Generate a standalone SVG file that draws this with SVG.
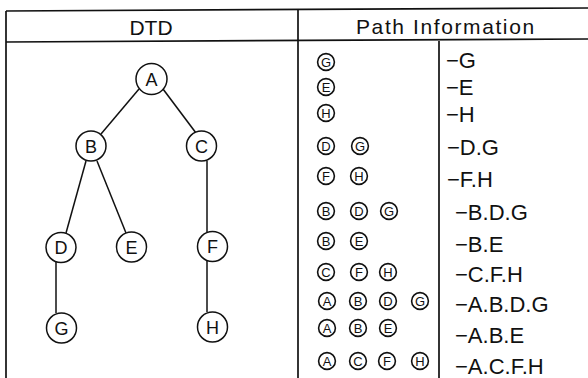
<svg xmlns="http://www.w3.org/2000/svg" width="588" height="378" viewBox="0 0 588 378">
  <style>
    .rule { stroke: #111; stroke-width: 1.7; fill: none; }
    .edge { stroke: #111; stroke-width: 1.5; fill: none; }
    .node circle { fill: #fff; stroke: #111; stroke-width: 1.5; }
    .node text { font-family: "Liberation Sans", Arial, sans-serif; font-size: 18px; fill: #111; text-anchor: middle; }
    .head { font-family: "Liberation Sans", Arial, sans-serif; font-size: 21px; fill: #111; }
    .lab { font-family: "Liberation Sans", Arial, sans-serif; font-size: 13px; fill: #111; text-anchor: middle; }
    .path { font-family: "Liberation Sans", Arial, sans-serif; font-size: 22px; fill: #111; }
  </style>
  <defs>
    <circle id="ring" r="8.4" fill="#fff" stroke="#111" stroke-width="1.6"/>
  </defs>
  <rect width="588" height="378" fill="#fff"/>

  <!-- table frame -->
  <g id="frame">
    <line class="rule" x1="6" y1="11" x2="588" y2="8"/>
    <line class="rule" x1="6" y1="42" x2="588" y2="39"/>
    <line class="rule" x1="6" y1="11" x2="6" y2="378"/>
    <line class="rule" x1="298" y1="10" x2="298" y2="378"/>
    <line class="rule" x1="439" y1="41" x2="439" y2="378"/>
    <text class="head" x="151" y="35" text-anchor="middle">DTD</text>
    <text class="head" x="356" y="34" letter-spacing="1.6">Path Information</text>
  </g>

  <!-- tree edges -->
  <g id="connectors">
    <line class="edge" x1="139" y1="89" x2="101" y2="134"/>
    <line class="edge" x1="163" y1="89" x2="196" y2="133"/>
    <line class="edge" x1="86" y1="161" x2="66" y2="233"/>
    <line class="edge" x1="97" y1="161" x2="126" y2="233"/>
    <line class="edge" x1="207" y1="161" x2="207" y2="232"/>
    <line class="edge" x1="56" y1="262" x2="56" y2="313"/>
    <line class="edge" x1="207" y1="261" x2="207" y2="312"/>
  </g>

  <!-- tree nodes -->
  <g id="node-A" class="node"><circle cx="151.5" cy="79" r="15.5"/><text x="151.5" y="85.5">A</text></g>
  <g id="node-B" class="node"><circle cx="91" cy="146" r="15"/><text x="91" y="152.5">B</text></g>
  <g id="node-C" class="node"><circle cx="201.5" cy="146" r="15"/><text x="201.5" y="152.5">C</text></g>
  <g id="node-D" class="node"><circle cx="61" cy="247.5" r="15"/><text x="61" y="254">D</text></g>
  <g id="node-E" class="node"><circle cx="131.5" cy="247" r="15"/><text x="131.5" y="253.5">E</text></g>
  <g id="node-F" class="node"><circle cx="212.5" cy="246.5" r="15"/><text x="212.5" y="253">F</text></g>
  <g id="node-G" class="node"><circle cx="61.5" cy="328" r="15"/><text x="61.5" y="334.5">G</text></g>
  <g id="node-H" class="node"><circle cx="212.5" cy="327" r="15"/><text x="212.5" y="333.5">H</text></g>

  <!-- path information rows: circled steps, then the dotted path -->
  <g id="row-1">
    <use href="#ring" x="326" y="62"/><text class="lab" x="326" y="66.6">G</text>
    <text class="path" x="446" y="68">−G</text>
  </g>
  <g id="row-2">
    <use href="#ring" x="326" y="87"/><text class="lab" x="326" y="91.6">E</text>
    <text class="path" x="446" y="95">−E</text>
  </g>
  <g id="row-3">
    <use href="#ring" x="326" y="113"/><text class="lab" x="326" y="117.6">H</text>
    <text class="path" x="446" y="122">−H</text>
  </g>
  <g id="row-4">
    <use href="#ring" x="326" y="146"/><text class="lab" x="326" y="150.6">D</text>
    <use href="#ring" x="360" y="146"/><text class="lab" x="360" y="150.6">G</text>
    <text class="path" x="447" y="155">−D.G</text>
  </g>
  <g id="row-5">
    <use href="#ring" x="326" y="176"/><text class="lab" x="326" y="180.6">F</text>
    <use href="#ring" x="359" y="176"/><text class="lab" x="359" y="180.6">H</text>
    <text class="path" x="447" y="187">−F.H</text>
  </g>
  <g id="row-6">
    <use href="#ring" x="326" y="211"/><text class="lab" x="326" y="215.6">B</text>
    <use href="#ring" x="359" y="211"/><text class="lab" x="359" y="215.6">D</text>
    <use href="#ring" x="389" y="211"/><text class="lab" x="389" y="215.6">G</text>
    <text class="path" x="455" y="220">−B.D.G</text>
  </g>
  <g id="row-7">
    <use href="#ring" x="326" y="241"/><text class="lab" x="326" y="245.6">B</text>
    <use href="#ring" x="359" y="241"/><text class="lab" x="359" y="245.6">E</text>
    <text class="path" x="455" y="252">−B.E</text>
  </g>
  <g id="row-8">
    <use href="#ring" x="326" y="272"/><text class="lab" x="326" y="276.6">C</text>
    <use href="#ring" x="359" y="272"/><text class="lab" x="359" y="276.6">F</text>
    <use href="#ring" x="388" y="272"/><text class="lab" x="388" y="276.6">H</text>
    <text class="path" x="455" y="282">−C.F.H</text>
  </g>
  <g id="row-9">
    <use href="#ring" x="327" y="301"/><text class="lab" x="327" y="305.6">A</text>
    <use href="#ring" x="358" y="301"/><text class="lab" x="358" y="305.6">B</text>
    <use href="#ring" x="388" y="301"/><text class="lab" x="388" y="305.6">D</text>
    <use href="#ring" x="420" y="301"/><text class="lab" x="420" y="305.6">G</text>
    <text class="path" x="455" y="312">−A.B.D.G</text>
  </g>
  <g id="row-10">
    <use href="#ring" x="327" y="328"/><text class="lab" x="327" y="332.6">A</text>
    <use href="#ring" x="358" y="328"/><text class="lab" x="358" y="332.6">B</text>
    <use href="#ring" x="388" y="328"/><text class="lab" x="388" y="332.6">E</text>
    <text class="path" x="455" y="343">−A.B.E</text>
  </g>
  <g id="row-11">
    <use href="#ring" x="327" y="361"/><text class="lab" x="327" y="365.6">A</text>
    <use href="#ring" x="358" y="361"/><text class="lab" x="358" y="365.6">C</text>
    <use href="#ring" x="387" y="361"/><text class="lab" x="387" y="365.6">F</text>
    <use href="#ring" x="420" y="361"/><text class="lab" x="420" y="365.6">H</text>
    <text class="path" x="455" y="374">−A.C.F.H</text>
  </g>
</svg>
